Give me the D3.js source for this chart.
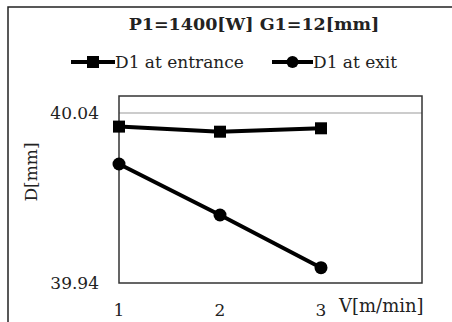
<!DOCTYPE html>
<html>
<head>
<meta charset="utf-8">
<script src="https://cdn.jsdelivr.net/npm/d3@7"></script>
<style>
  body { margin: 0; background: #fff; }
  text { font-family: "DejaVu Serif", "Liberation Serif", serif; fill: #222; }
</style>
</head>
<body>
<div id="chart"></div>
<script>
// chart data
const speeds = [1, 2, 3];
const entrance = [40.032, 40.029, 40.031];
const exitD = [40.010, 39.980, 39.949];
const yTicks = [39.94, 40.04];
const xTicks = [1, 2, 3];

const width = 452, height = 322;
const fs = 17;

const svg = d3.select("#chart").append("svg")
  .attr("width", width)
  .attr("height", height);

// outer frame (runs off the right and bottom)
svg.append("rect")
  .attr("x", 8).attr("y", 7)
  .attr("width", 460).attr("height", 330)
  .attr("fill", "none")
  .attr("stroke", "#222")
  .attr("stroke-width", 1.5);

const xScale = d3.scaleLinear().domain([1, 4]).range([119, 422]);
const yScale = d3.scaleLinear().domain([39.94, 40.05]).range([283, 96]);

// gridline
svg.selectAll(".grid")
  .data(yTicks.filter(d => d > 39.94))
  .join("line")
  .attr("x1", xScale(1)).attr("x2", xScale(4))
  .attr("y1", d => yScale(d)).attr("y2", d => yScale(d))
  .attr("stroke", "#999")
  .attr("stroke-width", 1);

// plot border
svg.append("rect")
  .attr("x", xScale(1)).attr("y", yScale(40.05))
  .attr("width", xScale(4) - xScale(1))
  .attr("height", yScale(39.94) - yScale(40.05))
  .attr("fill", "none")
  .attr("stroke", "#333")
  .attr("stroke-width", 1.5);

// y tick labels
svg.selectAll(".ytick")
  .data(yTicks)
  .join("text")
  .attr("x", 99)
  .attr("y", d => yScale(d))
  .attr("dy", "0.35em")
  .attr("text-anchor", "end")
  .attr("font-size", fs)
  .text(d => d.toFixed(2));

// x tick labels
svg.selectAll(".xtick")
  .data(xTicks)
  .join("text")
  .attr("x", d => xScale(d))
  .attr("y", 310)
  .attr("dy", "0.35em")
  .attr("text-anchor", "middle")
  .attr("font-size", fs)
  .text(d => d);

svg.append("text")
  .attr("x", 339).attr("y", 306)
  .attr("dy", "0.35em")
  .attr("font-size", fs + 1)
  .text("V[m/min]");

svg.append("text")
  .attr("transform", "translate(31,172) rotate(-90)")
  .attr("dy", "0.35em")
  .attr("text-anchor", "middle")
  .attr("font-size", fs)
  .text("D[mm]");

// title
svg.append("text")
  .attr("x", 254).attr("y", 24)
  .attr("dy", "0.35em")
  .attr("text-anchor", "middle")
  .attr("font-size", 17.5)
  .attr("font-weight", "bold")
  .text("P1=1400[W] G1=12[mm]");

const line = d3.line()
  .x((d, i) => xScale(speeds[i]))
  .y(d => yScale(d));

// series
svg.append("path")
  .datum(entrance)
  .attr("d", line)
  .attr("fill", "none")
  .attr("stroke", "#000")
  .attr("stroke-width", 4);

svg.selectAll(".sq")
  .data(entrance)
  .join("rect")
  .attr("x", (d, i) => xScale(speeds[i]) - 6)
  .attr("y", d => yScale(d) - 6)
  .attr("width", 12).attr("height", 12)
  .attr("fill", "#000");

svg.append("path")
  .datum(exitD)
  .attr("d", line)
  .attr("fill", "none")
  .attr("stroke", "#000")
  .attr("stroke-width", 4);

svg.selectAll(".dot")
  .data(exitD)
  .join("circle")
  .attr("cx", (d, i) => xScale(speeds[i]))
  .attr("cy", d => yScale(d))
  .attr("r", 6.5)
  .attr("fill", "#000");

// legend
const legY = 62;
const leg1 = svg.append("g");
leg1.append("line")
  .attr("x1", 71).attr("x2", 115).attr("y1", legY).attr("y2", legY)
  .attr("stroke", "#000").attr("stroke-width", 4);
leg1.append("rect")
  .attr("x", 87).attr("y", legY - 6).attr("width", 12).attr("height", 12)
  .attr("fill", "#000");
leg1.append("text")
  .attr("x", 115).attr("y", legY)
  .attr("dy", "0.35em")
  .attr("font-size", fs)
  .text("D1 at entrance");

const leg2 = svg.append("g");
leg2.append("line")
  .attr("x1", 272).attr("x2", 313).attr("y1", legY).attr("y2", legY)
  .attr("stroke", "#000").attr("stroke-width", 4);
leg2.append("circle")
  .attr("cx", 292.5).attr("cy", legY).attr("r", 6)
  .attr("fill", "#000");
leg2.append("text")
  .attr("x", 313).attr("y", legY)
  .attr("dy", "0.35em")
  .attr("font-size", fs)
  .text("D1 at exit");
</script>
</body>
</html>
